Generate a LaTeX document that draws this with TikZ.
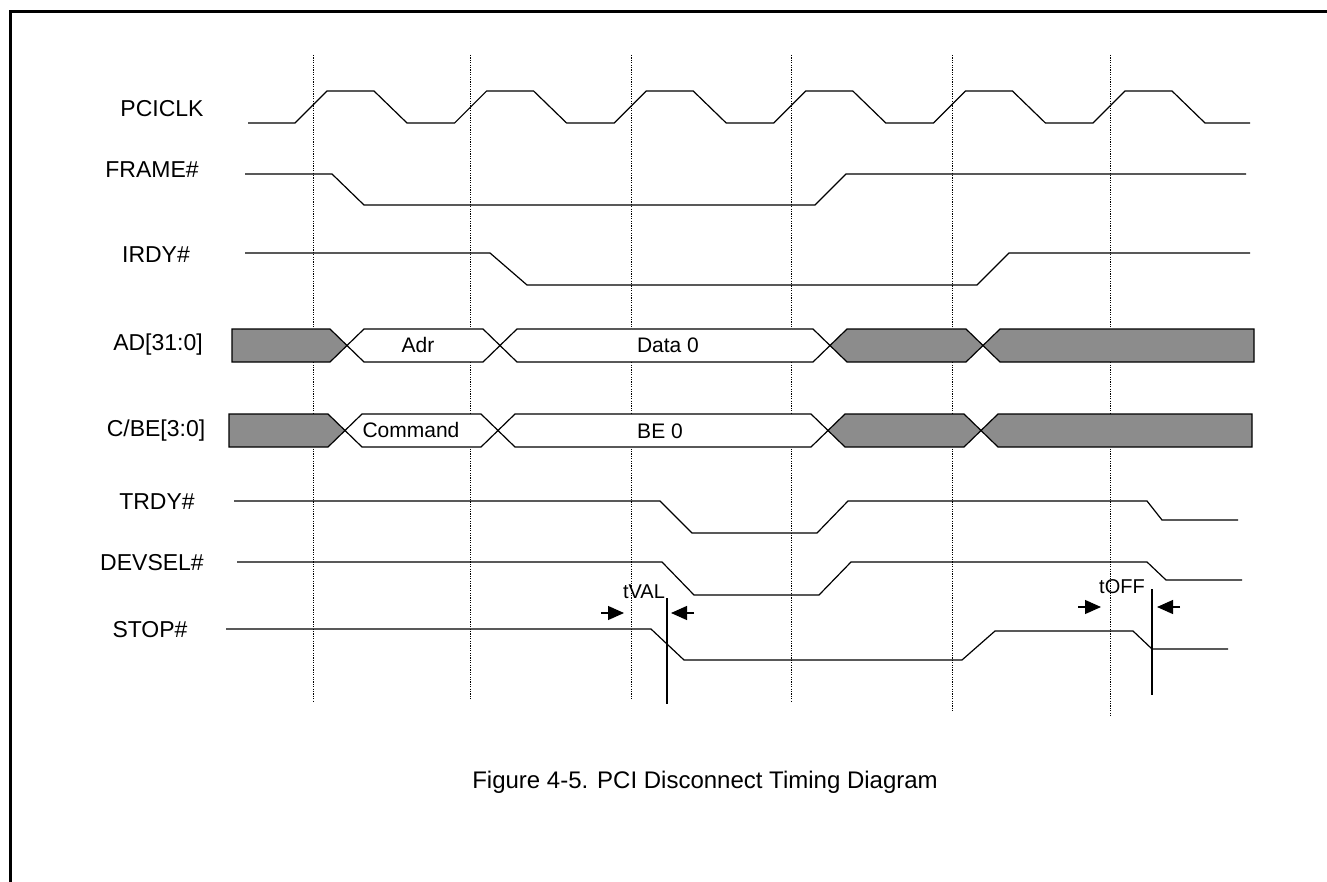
\documentclass[tikz,border=0pt]{standalone}
\usepackage{fontspec}
\setmainfont{Liberation Sans}
\usetikzlibrary{arrows.meta}
\definecolor{busgray}{HTML}{8C8C8C}
\newcommand{\hexbus}[4]{% left tip, right tip, middle y, style
  \draw[#4] (#1,#3) -- (#1+17,#3-16.5) -- (#2-17,#3-16.5) -- (#2,#3)
    -- (#2-17,#3+16.5) -- (#1+17,#3+16.5) -- cycle;}

\begin{document}
\begin{tikzpicture}[x=0.5pt,y=-0.5pt]
  \tikzstyle{every node}=[font=\fontsize{11.5}{13}\selectfont, inner sep=0pt]
  \tikzstyle{sig} = [line width=0.6pt, line join=miter]
  \tikzstyle{buswhite} = [sig, fill=white]
  \tikzstyle{busgrey} = [sig, fill=busgray]
  \tikzstyle{clockline} = [dash pattern=on 0.6pt off 0.6pt, line width=0.5pt]
  \tikzstyle{busname} = [font=\fontsize{10.5}{12}\selectfont]
  \tikzstyle{tname} = [font=\fontsize{10}{12}\selectfont]
  \tikzstyle{timing} = [sig, -{Triangle[length=8pt,width=7pt]}]

  \useasboundingbox (0,0) rectangle (1327,882);
  \draw[line width=1.5pt] (10,882) -- (10,12) -- (1327,12);

  % clock edges
  \foreach \x/\y in {313/702, 470/700, 631/700, 791/702, 952/712, 1110/717}
    \draw[clockline] (\x,55) -- (\x,\y);

  % signal names
  \node (pciclk) at (162,109) {PCICLK};
  \node (frame) at (152,170) {FRAME\#};
  \node (irdy) at (156,255) {IRDY\#};
  \node (ad) at (158,345) {AD[31:0]};
  \node (cbe) at (156,431) {C/BE[3:0]};
  \node (trdy) at (157,502) {TRDY\#};
  \node (devsel) at (152,563) {DEVSEL\#};
  \node (stop) at (150,630) {STOP\#};

  % waveforms
  \draw[sig] (248,123) foreach \k in {0,...,5} {
      -- ({295+159.6*\k},123) -- ({327+159.6*\k},91)
      -- ({374+159.6*\k},91) -- ({407+159.6*\k},123)} -- (1250,123);
  \draw[sig] (245,174) -- (332,174) -- (364,205) -- (815,205) -- (846,174) -- (1246,174);
  \draw[sig] (245,253) -- (490,253) -- (527,285) -- (977,285) -- (1009,253) -- (1250,253);
  \draw[sig] (234,501) -- (660,501) -- (692,533) -- (817,533) -- (848,501)
    -- (1147,501) -- (1162,520) -- (1238,520);
  \draw[sig] (237,562) -- (662,562) -- (694,595) -- (819,595) -- (851,562)
    -- (1147,562) -- (1166,580) -- (1242,580);
  \draw[sig] (226,629) -- (651,629) -- (684,660) -- (962,660) -- (995,631)
    -- (1133,631) -- (1152,649) -- (1228,649);

  % AD bus
  \draw[busgrey] (232,329) -- (330,329) -- (347,345.5) -- (330,362) -- (232,362) -- cycle;
  \hexbus{347}{500}{345.5}{buswhite}
  \hexbus{500}{830}{345.5}{buswhite}
  \hexbus{830}{983}{345.5}{busgrey}
  \draw[busgrey] (983,345.5) -- (1000,329) -- (1254,329) -- (1254,362) -- (1000,362) -- cycle;
  \node[busname] (adr) at (418,345) {Adr};
  \node[busname] (data0) at (668,345) {Data 0};

  % C/BE bus
  \draw[busgrey] (229,414) -- (328,414) -- (345,430.5) -- (328,447) -- (229,447) -- cycle;
  \hexbus{345}{498}{430.5}{buswhite}
  \hexbus{498}{828}{430.5}{buswhite}
  \hexbus{828}{981}{430.5}{busgrey}
  \draw[busgrey] (981,430.5) -- (998,414) -- (1252,414) -- (1252,447) -- (998,447) -- cycle;
  \node[busname] (command) at (411,430) {Command};
  \node[busname] (be0) at (660,431) {BE 0};

  % tVAL
  \coordinate (tvaltop) at (667,598);
  \coordinate (tvalbot) at (667,704);
  \coordinate (tvalin) at (601,613);
  \coordinate (tvalinend) at (624,613);
  \coordinate (tvalout) at (694,613);
  \coordinate (tvaloutend) at (671,613);
  \draw[sig] (tvaltop) -- (tvalbot);
  \draw[timing] (tvalin) -- (tvalinend);
  \draw[timing] (tvalout) -- (tvaloutend);
  \node[tname] (tval) at (644,592) {tVAL};

  % tOFF
  \coordinate (tofftop) at (1152,589);
  \coordinate (toffbot) at (1152,695);
  \coordinate (toffin) at (1078,607);
  \coordinate (toffinend) at (1101,607);
  \coordinate (toffout) at (1180,607);
  \coordinate (toffoutend) at (1157,607);
  \draw[sig] (tofftop) -- (toffbot);
  \draw[timing] (toffin) -- (toffinend);
  \draw[timing] (toffout) -- (toffoutend);
  \node[tname] (toff) at (1122,587) {tOFF};

  \node[font=\fontsize{12}{14}\selectfont] (caption) at (705,782) {Figure 4-5. PCI Disconnect Timing Diagram};
\end{tikzpicture}
\end{document}
